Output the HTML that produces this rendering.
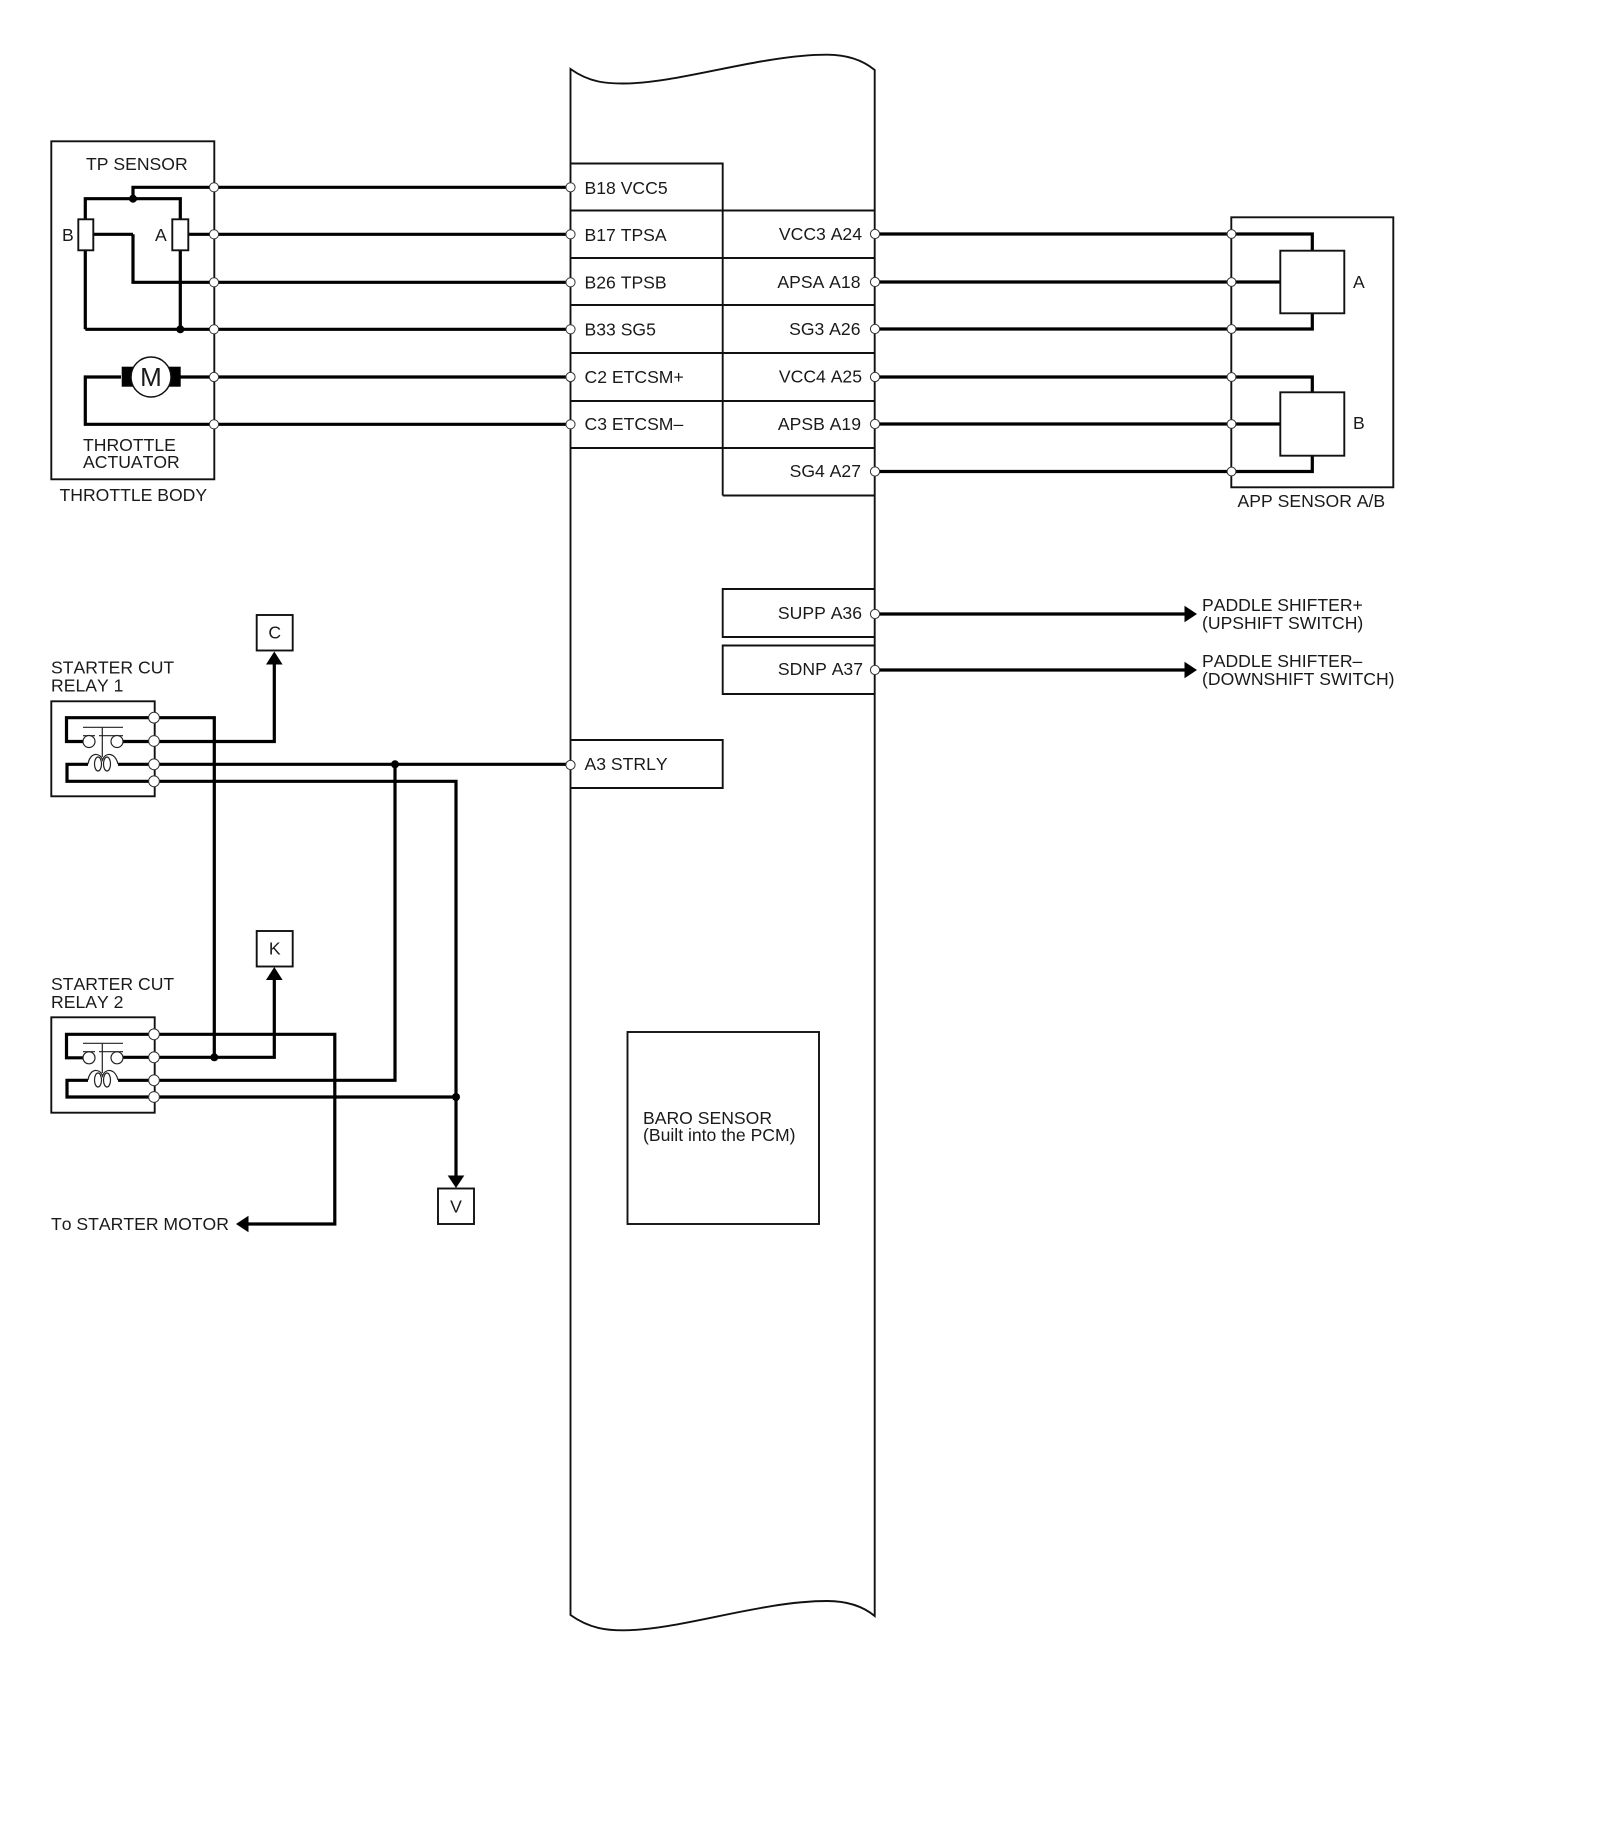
<!DOCTYPE html>
<html><head><meta charset="utf-8"><style>
html,body{margin:0;padding:0;background:#fff;width:1600px;height:1839px;overflow:hidden}
svg{display:block}
text{font-family:"Liberation Sans",Arial,sans-serif;font-size:17.6px;fill:#1a1a1a;font-kerning:none}
.t{fill:none;stroke:#111;stroke-width:1.9}
.w{fill:none;stroke:#000;stroke-width:3.2}
.f{fill:none;stroke:#222;stroke-width:1.2}
.n{fill:#fff;stroke:#333;stroke-width:1}
.r{fill:#fff;stroke:#111;stroke-width:1.9}
</style></head><body>
<svg width="1600" height="1839" viewBox="0 0 1600 1839">
<rect width="1600" height="1839" fill="#fff"/>
<!-- PCM -->
<path class="t" d="M570.5 69 C590 83 608 83.5 623 83.5 C680 83.5 760 54.7 827 54.7 C850 54.7 865 62 874.7 70 L874.7 1616 C865 1608 850 1601 827 1601 C760 1601 680 1630.3 623 1630.3 C608 1630.3 590 1629 570.5 1615 Z"/>
<path class="t" d="M570.5 163.5H722.7V495.5M722.7 210.5H874.7M570.5 210.5H722.7M570.5 258H874.7M570.5 305H874.7M570.5 353H874.7M570.5 401H874.7M570.5 448H874.7M722.7 495.5H874.7"/>
<path class="t" d="M874.7 589H722.7V637H874.7M874.7 645.5H722.7V694H874.7M570.5 740H722.7V788H570.5"/>
<rect class="t" x="627.5" y="1032" width="191.5" height="192"/>
<!-- wires to PCM -->
<path class="w" d="M133 198.7V187.3H570M214 234.3H570M133 234.3V282.3H570M85.3 329.3H570M93 234.3H133M188 234.3H214M85.3 219V198.7H180.3V329.3M85.3 250V329.3M180 377H570M121 377H85.3V424.3H570"/>
<path class="w" d="M875 234H1231H1312.3V251M875 282H1280M875 329H1312.3V313M875 377H1312.3V393M875 424H1280M875 471.5H1312.3V455"/>
<path class="w" d="M875 614H1186M875 670H1186"/>
<!-- throttle body -->
<rect class="t" x="51.3" y="141.3" width="163" height="338"/>
<rect class="r" x="78.3" y="219.3" width="15" height="31"/>
<rect class="r" x="172.3" y="219.3" width="16" height="31"/>
<circle cx="133" cy="198.7" r="4"/><circle cx="180.3" cy="329.3" r="4"/>
<rect x="121.7" y="366.7" width="59" height="20" fill="#000"/>
<circle cx="151" cy="377" r="20" fill="#fff" stroke="#111" stroke-width="1.5"/>
<text x="151" y="386" text-anchor="middle" style="font-size:26px">M</text>
<!-- App sensor -->
<rect class="t" x="1231.3" y="217.3" width="162" height="270"/>
<rect class="r" x="1280.3" y="250.7" width="64" height="62.6"/>
<rect class="r" x="1280.3" y="392.3" width="64" height="63.4"/>
<!-- relay 1 -->
<rect class="t" x="51.3" y="701.3" width="103.4" height="95"/>
<path class="w" d="M214.3 1057.3V717.7H66.5V741.5H83M123 741.5H274.3V660M154 764.3H570M395 764.3V1080.3H154M88 764.3H67V781.3H456V1180M118 764.3H154"/>
<path class="f" d="M83 727.3H123M102.3 727.3V757M83 735.7H95M99 735.7H123M88 764C90 752 100 752 102.5 760C105 752 115 752 118 764"/>
<circle cx="89" cy="741.5" r="6" fill="#fff" stroke="#222" stroke-width="1.2"/><circle cx="117" cy="741.5" r="6" fill="#fff" stroke="#222" stroke-width="1.2"/>
<ellipse cx="98" cy="764" rx="3.5" ry="7" class="f"/><ellipse cx="107" cy="764" rx="3.5" ry="7" class="f"/>
<!-- relay 2 -->
<rect class="t" x="51.3" y="1017.3" width="103.4" height="95.4"/>
<path class="w" d="M154 1034.3H66.5V1057.8H83M123 1057.3H274.3V975M154 1034.3H334.8V1224H245M88 1080.3H67V1097H456M118 1080.3H154"/>
<path class="f" d="M83 1043.3H123M102.3 1043.3V1073M83 1051.7H95M99 1051.7H123M88 1080C90 1068 100 1068 102.5 1076C105 1068 115 1068 118 1080"/>
<circle cx="89" cy="1057.8" r="6" fill="#fff" stroke="#222" stroke-width="1.2"/><circle cx="117" cy="1057.8" r="6" fill="#fff" stroke="#222" stroke-width="1.2"/>
<ellipse cx="98" cy="1080" rx="3.5" ry="7" class="f"/><ellipse cx="107" cy="1080" rx="3.5" ry="7" class="f"/>
<circle cx="395" cy="764.3" r="4"/><circle cx="214.3" cy="1057.3" r="4"/><circle cx="456" cy="1097" r="4"/>
<!-- boxes C K V -->
<rect class="r" x="256.7" y="615" width="36" height="35.5"/>
<rect class="r" x="256.7" y="931" width="36" height="35.5"/>
<rect class="r" x="438" y="1188.5" width="36" height="35.5"/>
<!-- arrowheads -->
<path d="M274.3 651.5L266 664.5H282.6Z"/><path d="M274.3 967L266 980H282.6Z"/><path d="M456 1188L447.7 1175.5H464.3Z"/>
<path d="M236 1224L248.5 1215.7V1232.3Z"/><path d="M1197 614L1184.5 605.7V622.3Z"/><path d="M1197 670L1184.5 661.7V678.3Z"/>
<!-- nodes -->
<g class="n">
<circle cx="214" cy="187.3" r="4.6"/><circle cx="214" cy="234.3" r="4.6"/><circle cx="214" cy="282.3" r="4.6"/><circle cx="214" cy="329.3" r="4.6"/><circle cx="214" cy="377" r="4.6"/><circle cx="214" cy="424.3" r="4.6"/>
<circle cx="570.5" cy="187.3" r="4.6"/><circle cx="570.5" cy="234.3" r="4.6"/><circle cx="570.5" cy="282.3" r="4.6"/><circle cx="570.5" cy="329.3" r="4.6"/><circle cx="570.5" cy="377" r="4.6"/><circle cx="570.5" cy="424.3" r="4.6"/><circle cx="570.5" cy="765" r="4.6"/>
<circle cx="875" cy="234" r="4.6"/><circle cx="875" cy="282" r="4.6"/><circle cx="875" cy="329" r="4.6"/><circle cx="875" cy="377" r="4.6"/><circle cx="875" cy="424" r="4.6"/><circle cx="875" cy="471.5" r="4.6"/><circle cx="875" cy="614" r="4.6"/><circle cx="875" cy="670" r="4.6"/>
<circle cx="1231.5" cy="234" r="4.4"/><circle cx="1231.5" cy="282" r="4.4"/><circle cx="1231.5" cy="329" r="4.4"/><circle cx="1231.5" cy="377" r="4.4"/><circle cx="1231.5" cy="424" r="4.4"/><circle cx="1231.5" cy="471.5" r="4.4"/>
<circle cx="154" cy="717.7" r="5.4"/><circle cx="154" cy="741" r="5.4"/><circle cx="154" cy="764.3" r="5.4"/><circle cx="154" cy="781.3" r="5.4"/>
<circle cx="154" cy="1034.3" r="5.4"/><circle cx="154" cy="1057.3" r="5.4"/><circle cx="154" cy="1080.3" r="5.4"/><circle cx="154" cy="1097" r="5.4"/>
</g>
<!-- text -->
<text x="86" y="170">TP SENSOR</text>
<text x="62" y="241">B</text><text x="155" y="241">A</text>
<text x="83" y="451">THROTTLE</text><text x="83" y="468">ACTUATOR</text>
<text x="59.5" y="501">THROTTLE BODY</text>
<text x="51" y="673.5">STARTER CUT</text><text x="51" y="691.5">RELAY 1</text>
<text x="51" y="990">STARTER CUT</text><text x="51" y="1008">RELAY 2</text>
<text x="51" y="1230">To STARTER MOTOR</text>
<text x="274.7" y="638.5" text-anchor="middle">C</text>
<text x="274.7" y="954.5" text-anchor="middle">K</text>
<text x="456" y="1212.5" text-anchor="middle">V</text>
<text x="584.5" y="194">B18 VCC5</text><text x="584.5" y="241">B17 TPSA</text><text x="584.5" y="288.5">B26 TPSB</text><text x="584.5" y="335.5">B33 SG5</text><text x="584.5" y="383">C2 ETCSM+</text><text x="584.5" y="430">C3 ETCSM–</text><text x="584.5" y="770">A3 STRLY</text>
<text x="862" y="240" text-anchor="end">VCC3 A24</text><text x="860.5" y="288" text-anchor="end">APSA A18</text><text x="860.5" y="335" text-anchor="end">SG3 A26</text><text x="862" y="382.5" text-anchor="end">VCC4 A25</text><text x="861" y="430" text-anchor="end">APSB A19</text><text x="861" y="477" text-anchor="end">SG4 A27</text><text x="862" y="619" text-anchor="end">SUPP A36</text><text x="863" y="675" text-anchor="end">SDNP A37</text>
<text x="643" y="1124">BARO SENSOR</text><text x="643" y="1141">(Built into the PCM)</text>
<text x="1353" y="288">A</text><text x="1353" y="429">B</text>
<text x="1237.5" y="507">APP SENSOR A/B</text>
<text x="1202" y="611">PADDLE SHIFTER+</text><text x="1202" y="629">(UPSHIFT SWITCH)</text>
<text x="1202" y="667">PADDLE SHIFTER–</text><text x="1202" y="685">(DOWNSHIFT SWITCH)</text>
</svg>
</body></html>
